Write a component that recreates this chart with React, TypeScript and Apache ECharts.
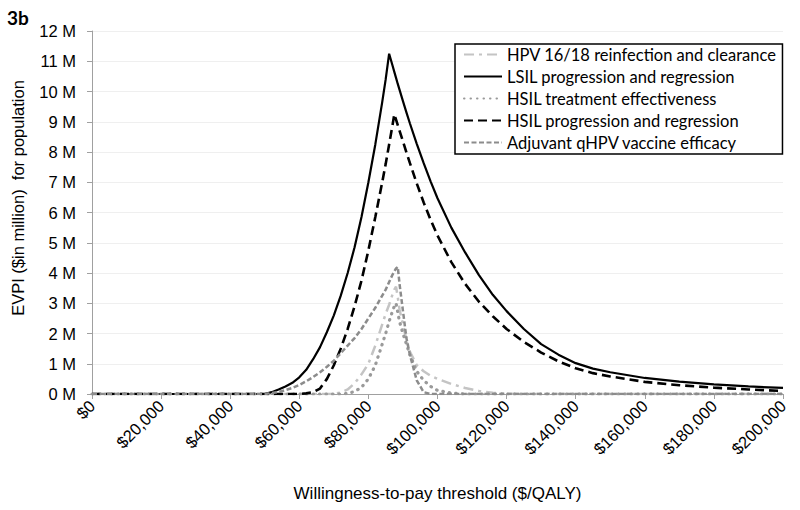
import React, { useEffect, useRef } from "react";
import * as echarts from "echarts";

// Willingness-to-pay thresholds ($/QALY)
const WTP = [
  0, 10000, 20000, 30000, 40000, 50000,
  52000, 54000, 56000, 58000, 60000, 62000, 64000, 66000, 68000, 70000, 72000, 74000, 76000, 78000, 80000, 82000, 84000,
  85000, 86000, 87000, 87500, 88000, 88500, 89000, 90000, 91000, 92000,
  94000, 96000, 98000, 100000,
  104000, 108000, 112000, 116000, 120000,
  125000, 130000, 135000, 140000, 145000,
  150000, 160000, 170000, 180000, 190000, 200000,
];

// EVPI in $ million
const HPV_REINFECTION = [
  0, 0, 0, 0, 0, 0,
  0, 0, 0, 0, 0, 0, 0, 0, 0, 0, 0.05, 0.15, 0.35, 0.65, 1.0, 1.6, 2.3,
  2.65, 2.95, 3.3, 3.45, 3.55, 3.2, 2.8, 2.3, 1.8, 1.4,
  0.95, 0.75, 0.6, 0.5,
  0.33, 0.2, 0.1, 0.04, 0.01,
  0, 0, 0, 0, 0,
  0, 0, 0, 0, 0, 0,
];
const LSIL_PROGRESSION = [
  0, 0, 0, 0, 0, 0,
  0.06, 0.15, 0.25, 0.37, 0.55, 0.8, 1.15, 1.55, 2.05, 2.6, 3.25, 4.0, 4.85, 5.85, 7.0, 8.25, 9.65,
  10.4, 11.25, 10.85, 10.65, 10.45, 10.25, 10.06, 9.68, 9.31, 8.95,
  8.27, 7.63, 7.03, 6.47,
  5.5, 4.68, 3.93, 3.28, 2.74,
  2.15, 1.65, 1.3, 1.02, 0.84,
  0.72, 0.53, 0.41, 0.32, 0.25, 0.2,
];
const HSIL_TREATMENT = [
  0, 0, 0, 0, 0, 0,
  0, 0, 0, 0, 0, 0, 0, 0, 0, 0, 0, 0.02, 0.08, 0.22, 0.5, 0.95, 1.65,
  2.0, 2.4, 2.75, 2.9, 3.0, 2.7, 2.4, 2.0, 1.65, 1.3,
  0.75, 0.45, 0.25, 0.12,
  0.03, 0, 0, 0, 0,
  0, 0, 0, 0, 0,
  0, 0, 0, 0, 0, 0,
];
const HSIL_PROGRESSION = [
  0, 0, 0, 0, 0, 0,
  0, 0, 0, 0, 0, 0.02, 0.06, 0.18, 0.5, 0.95, 1.5, 2.15, 2.9, 3.75, 4.75, 5.85, 7.0,
  7.6, 8.25, 8.9, 9.25, 9.07, 8.89, 8.71, 8.35, 7.99, 7.64,
  6.96, 6.33, 5.76, 5.24,
  4.36, 3.64, 3.05, 2.57, 2.15,
  1.72, 1.37, 1.08, 0.85, 0.69,
  0.58, 0.4, 0.29, 0.21, 0.15, 0.1,
];
const ADJUVANT_VACCINE = [
  0, 0, 0, 0, 0, 0,
  0.03, 0.07, 0.13, 0.2, 0.3, 0.42, 0.56, 0.72, 0.9, 1.1, 1.35, 1.6, 1.85, 2.15, 2.5, 2.85, 3.25,
  3.45, 3.7, 3.95, 4.05, 4.15, 4.2, 3.65, 2.75, 1.85, 1.3,
  0.45, 0.06, 0, 0,
  0, 0, 0, 0, 0,
  0, 0, 0, 0, 0,
  0, 0, 0, 0, 0, 0,
];

const SERIES_NAMES = [
  "HPV 16/18 reinfection and clearance",
  "LSIL progression and regression",
  "HSIL treatment effectiveness",
  "HSIL progression and regression",
  "Adjuvant qHPV vaccine efficacy",
];

export default function App() {
  const ref = useRef<HTMLDivElement>(null);
  useEffect(() => {
    const chart = echarts.init(ref.current!, null, { renderer: "svg" });
    const pair = (vals: number[]) => WTP.map((x, i) => [x, vals[i]]);
    const base = {
      type: "line",
      symbol: "none",
      smooth: false,
      z: 2,
    };
    chart.setOption({
      animation: false,
      backgroundColor: "#fff",
      title: {
        text: "3b",
        left: 7,
        top: 8,
        padding: 0,
        textStyle: { fontFamily: "Lato", fontWeight: "bold", fontSize: 19, color: "#000" },
      },
      grid: { left: 92, right: 17, top: 31, bottom: 116 },
      legend: {
        orient: "vertical",
        left: 455,
        top: 44,
        padding: [2, 6, 3, 8],
        itemWidth: 38,
        itemHeight: 14,
        itemGap: 5,
        borderColor: "#000",
        borderWidth: 1.5,
        backgroundColor: "#fff",
        z: 5,
        itemStyle: { opacity: 0 },
        textStyle: { fontFamily: "Lato", fontSize: 16.5, color: "#000", lineHeight: 16 },
        data: SERIES_NAMES,
      },
      xAxis: {
        type: "value",
        min: 0,
        max: 200000,
        interval: 20000,
        name: "Willingness-to-pay threshold ($/QALY)",
        nameLocation: "middle",
        nameGap: 91,
        nameTextStyle: { fontFamily: "Liberation Sans", fontSize: 17, color: "#000" },
        axisLine: { lineStyle: { color: "#a0a0a0", width: 1 } },
        axisTick: { show: true, length: 5, lineStyle: { color: "#a0a0a0" } },
        splitLine: { show: false },
        axisLabel: {
          rotate: 45,
          margin: 9,
          fontFamily: "Liberation Sans",
          fontSize: 16.5,
          color: "#000",
          formatter: (v: number) => "$" + v.toLocaleString("en-US"),
        },
      },
      yAxis: {
        type: "value",
        min: 0,
        max: 12,
        interval: 1,
        axisLine: { show: true, lineStyle: { color: "#a0a0a0", width: 1 } },
        axisTick: { show: true, length: 5, lineStyle: { color: "#a0a0a0" } },
        splitLine: { show: true, lineStyle: { color: "#efefef", width: 1 } },
        axisLabel: {
          margin: 16,
          fontFamily: "Liberation Sans",
          fontSize: 16.5,
          color: "#000",
          formatter: "{value} M",
        },
      },
      graphic: [
        {
          type: "text",
          x: 18,
          y: 198,
          rotation: Math.PI / 2,
          style: {
            text: "EVPI ($in million)  for population",
            fontFamily: "Liberation Sans",
            fontSize: 16.5,
            fill: "#000",
            textAlign: "center",
            textVerticalAlign: "middle",
          },
        },
      ],
      series: [
        {
          ...base,
          name: SERIES_NAMES[0],
          data: pair(HPV_REINFECTION),
          lineStyle: { color: "#c4c4c4", width: 2.5, type: [10, 5, 3, 5] },
          itemStyle: { color: "#c4c4c4" },
        },
        {
          ...base,
          name: SERIES_NAMES[1],
          data: pair(LSIL_PROGRESSION),
          lineStyle: { color: "#000", width: 2.2, type: "solid" },
          itemStyle: { color: "#000" },
        },
        {
          ...base,
          name: SERIES_NAMES[2],
          data: pair(HSIL_TREATMENT),
          lineStyle: { color: "#9a9a9a", width: 3.2, type: [0.5, 6], cap: "round" },
          itemStyle: { color: "#9a9a9a" },
        },
        {
          ...base,
          name: SERIES_NAMES[3],
          data: pair(HSIL_PROGRESSION),
          lineStyle: { color: "#000", width: 2.6, type: [9, 5] },
          itemStyle: { color: "#000" },
        },
        {
          ...base,
          name: SERIES_NAMES[4],
          data: pair(ADJUVANT_VACCINE),
          lineStyle: { color: "#8c8c8c", width: 2.5, type: [5, 2.5] },
          itemStyle: { color: "#8c8c8c" },
        },
      ],
    });
    return () => chart.dispose();
  }, []);
  return (
    <div
      ref={ref}
      style={{ position: "absolute", left: 0, top: 0, width: 800, height: 510 }}
    />
  );
}
